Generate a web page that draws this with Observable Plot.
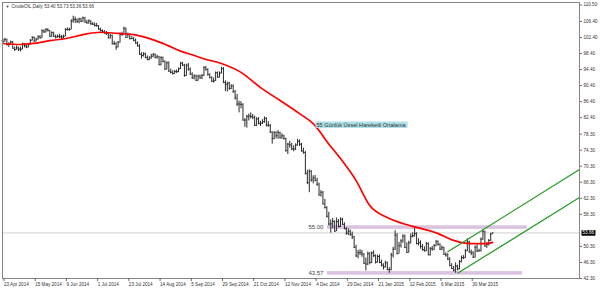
<!DOCTYPE html>
<html><head><meta charset="utf-8">
<script src="https://cdn.jsdelivr.net/npm/d3@7"></script>
<script src="https://cdn.jsdelivr.net/npm/@observablehq/plot@0.6"></script>
<style>
html,body{margin:0;padding:0;background:#fff;}
#chart{width:600px;height:290px;overflow:hidden;}
</style></head><body><div id="chart"></div>
<script>
// ---- data ----
const symbol = "CrudeOIL,Daily";
const xTickIdx = [0,16,32,48,64,80,96,112,128,144,160,176,192,208,224,240];
const xTickLabels = ["23 Apr 2014","15 May 2014","9 Jun 2014","1 Jul 2014","23 Jul 2014","14 Aug 2014","5 Sep 2014","29 Sep 2014","21 Oct 2014","12 Nov 2014","4 Dec 2014","29 Dec 2014","21 Jan 2015","12 Feb 2015","6 Mar 2015","30 Mar 2015"];
const yTicks = [110.50,106.40,102.40,98.40,94.40,90.40,86.40,82.40,78.30,74.30,70.30,66.30,62.30,58.30,50.30,46.30,42.30];

const open = [
101.6,101.4,101.9,100.6,100.8,101.3,99.7,99.4,99.8,99.5,
99.5,100.8,100.3,100.0,100.6,101.7,102.4,101.5,102.0,102.6,
102.3,104.1,103.8,104.4,104.1,102.7,103.6,102.7,102.5,102.7,
102.6,102.5,102.7,104.4,104.4,104.4,106.5,106.9,106.9,106.4,
107.0,106.4,107.3,106.2,106.0,106.5,105.8,105.7,105.4,105.3,
104.5,104.1,103.8,103.5,103.4,102.3,102.9,100.8,100.9,100.0,
101.2,103.2,103.1,104.6,102.4,103.1,102.1,102.1,101.7,101.0,
100.3,98.2,97.9,98.3,97.4,96.9,97.3,97.7,98.1,97.4,
97.6,95.6,97.4,96.4,94.5,96.1,94.0,93.7,93.4,93.9,
93.9,94.6,96.0,95.5,92.9,95.5,94.5,93.3,92.3,92.8,
91.7,92.8,92.3,92.9,94.9,94.4,93.1,92.4,91.5,91.6,
93.6,92.5,93.5,94.6,91.2,90.7,91.0,89.7,90.3,88.9,
87.3,85.8,85.8,85.7,81.8,81.8,82.7,82.8,82.7,82.5,
80.5,82.1,81.0,81.0,81.4,82.2,80.5,80.5,78.8,77.2,
78.7,77.9,78.7,77.4,77.9,77.2,74.2,75.8,75.6,74.6,
74.6,75.6,76.5,75.8,74.1,73.7,68.5,66.2,69.0,66.9,
67.4,66.8,65.8,63.1,63.8,60.9,60.0,57.8,55.9,55.9,
56.5,54.1,56.5,55.3,57.1,55.8,54.7,53.6,54.1,53.3,
52.7,50.0,47.9,48.7,48.8,48.4,46.1,45.9,48.5,46.3,
48.7,48.0,46.4,47.8,46.3,45.6,45.2,46.2,44.5,44.5,
48.2,49.6,53.1,48.5,50.5,51.7,52.9,50.0,48.8,51.2,
52.8,53.0,53.5,51.0,51.2,50.3,49.5,49.2,51.0,48.2,
49.8,49.6,50.5,51.5,50.8,49.6,50.0,48.3,48.2,47.1,
45.5,44.8,44.4,45.4,44.7,46.5,47.5,47.5,49.2,51.4,
48.9,48.7,47.6,50.1,49.1,49.2,52.1,54.0,50.4,50.8,
51.8,53.40];
const high = [
102.0,102.2,102.0,101.1,101.5,101.4,100.0,100.3,100.0,100.0,
101.0,100.9,100.5,100.8,101.9,102.6,102.5,102.2,102.8,102.9,
104.3,104.3,104.6,104.6,104.2,103.8,103.7,103.0,103.0,103.2,
102.9,103.0,104.6,104.8,104.7,106.8,107.7,107.5,107.0,107.2,
107.2,107.5,107.4,106.7,106.8,106.6,106.1,106.0,105.9,105.4,
104.7,104.3,104.1,103.9,103.5,103.2,103.0,101.4,101.1,101.4,
103.5,103.7,105.0,104.8,103.5,103.3,102.6,102.4,102.0,101.3,
100.6,98.6,98.6,98.5,97.8,97.6,98.2,98.4,98.3,98.0,
97.7,97.6,97.5,96.6,96.3,96.3,94.5,94.1,94.2,94.3,
94.8,96.2,96.2,95.7,95.7,95.9,94.8,93.6,93.1,93.0,
93.0,93.0,93.2,95.1,95.2,94.6,93.4,92.6,92.3,93.8,
93.8,93.8,95.0,94.9,91.6,91.3,91.2,90.6,90.6,89.2,
88.2,86.5,86.4,85.9,82.2,83.0,83.3,83.6,83.2,82.8,
82.4,82.4,81.5,81.9,82.6,82.4,81.4,80.7,78.9,78.9,
78.9,79.2,78.8,78.4,78.0,77.3,76.0,76.5,76.0,75.4,
75.9,77.0,76.9,76.0,74.8,74.0,69.3,69.4,69.2,67.9,
68.0,67.3,66.1,64.2,64.0,62.0,60.2,58.8,56.9,57.3,
56.7,57.4,57.0,57.4,57.3,56.2,55.0,54.7,54.4,53.9,
52.8,50.6,49.3,49.5,49.3,48.5,47.4,48.9,48.8,48.9,
49.2,48.2,48.1,48.2,46.9,46.0,46.6,46.4,45.0,48.6,
50.1,54.2,53.5,51.3,52.0,53.2,53.1,51.2,51.6,53.4,
53.7,54.9,53.7,52.2,51.7,50.8,50.2,51.3,51.2,50.0,
50.3,50.8,51.8,51.7,51.0,50.4,50.1,48.7,48.5,47.5,
46.0,45.3,46.2,45.6,46.8,47.9,48.0,49.5,52.2,51.6,
49.4,49.0,50.4,50.8,49.6,52.4,54.4,54.1,51.3,52.0,
53.6,53.73];
const low = [
101.0,101.2,100.3,99.9,100.5,99.6,98.9,99.2,98.9,98.8,
99.3,99.8,99.6,99.8,100.5,101.5,101.2,101.3,101.7,102.0,
102.2,103.4,103.5,103.8,102.5,102.4,102.5,102.0,102.2,102.1,
101.9,102.1,102.6,104.0,103.9,104.3,106.0,105.9,105.9,105.8,
106.1,106.2,106.0,105.8,105.7,105.5,105.4,105.0,105.0,104.2,
103.8,103.6,103.2,102.9,102.1,102.0,100.6,100.4,99.2,99.8,
101.0,102.7,103.0,102.2,102.2,101.8,101.9,101.3,100.7,100.0,
98.0,97.0,97.5,97.1,96.6,96.6,97.0,97.4,97.1,97.0,
95.4,95.3,96.1,94.2,94.3,93.7,93.3,93.0,93.2,93.4,
93.6,94.4,95.2,92.5,92.7,94.0,92.9,92.0,91.8,91.4,
91.5,92.0,91.9,92.7,94.0,92.8,92.1,91.2,91.0,91.4,
92.3,92.3,93.3,90.9,88.9,88.8,89.2,89.4,88.5,86.8,
85.2,83.6,84.6,81.6,80.0,79.8,81.6,82.1,81.9,80.2,
80.2,80.6,80.2,80.7,81.0,80.1,80.0,78.5,75.8,76.9,
77.1,77.0,77.1,77.0,76.8,73.8,73.2,74.8,74.2,73.9,
74.2,75.3,75.2,73.8,73.3,68.1,65.7,63.7,66.3,65.9,
66.4,65.3,62.9,62.6,60.7,59.6,57.4,55.4,53.6,54.7,
53.9,54.0,54.9,55.0,55.6,54.5,53.1,53.0,52.8,52.0,
49.8,47.6,47.2,48.0,47.6,45.9,44.2,45.5,45.7,46.0,
47.5,45.9,46.1,46.0,45.2,44.4,44.9,44.3,43.6,44.2,
47.4,49.3,48.2,48.4,49.9,51.1,49.8,48.6,48.6,50.9,
52.4,52.6,50.7,50.4,49.6,49.1,48.9,49.0,48.0,47.9,
49.1,49.3,50.2,50.4,49.3,49.2,48.1,47.6,46.8,45.3,
44.6,43.9,43.6,44.2,44.5,46.2,47.0,47.3,49.0,48.6,
48.0,47.3,47.4,48.8,48.9,48.9,51.8,50.1,49.8,50.4,
51.5,53.36];
const close = [
101.4,101.9,100.6,100.8,101.3,99.7,99.4,99.8,99.5,99.5,
100.8,100.3,100.0,100.6,101.7,102.4,101.5,102.0,102.6,102.3,
104.1,103.8,104.4,104.1,102.7,103.6,102.7,102.5,102.7,102.6,
102.5,102.7,104.4,104.4,104.4,106.5,106.9,106.9,106.4,107.0,
106.4,107.3,106.2,106.0,106.5,105.8,105.7,105.4,105.3,104.5,
104.1,103.8,103.5,103.4,102.3,102.9,100.8,100.9,100.0,101.2,
103.2,103.1,104.6,102.4,103.1,102.1,102.1,101.7,101.0,100.3,
98.2,97.9,98.3,97.4,96.9,97.3,97.7,98.1,97.4,97.6,
95.6,97.4,96.4,94.5,96.1,94.0,93.7,93.4,93.9,93.9,
94.6,96.0,95.5,92.9,95.5,94.5,93.3,92.3,92.8,91.7,
92.8,92.3,92.9,94.9,94.4,93.1,92.4,91.5,91.6,93.6,
92.5,93.5,94.6,91.2,90.7,91.0,89.7,90.3,88.9,87.3,
85.8,85.8,85.7,81.8,81.8,82.7,82.8,82.7,82.5,80.5,
82.1,81.0,81.0,81.4,82.2,80.5,80.5,78.8,77.2,78.7,
77.9,78.7,77.4,77.9,77.2,74.2,75.8,75.6,74.6,74.6,
75.6,76.5,75.8,74.1,73.7,68.5,66.2,69.0,66.9,67.4,
66.8,65.8,63.1,63.8,60.9,60.0,57.8,55.9,55.9,56.5,
54.1,56.5,55.3,57.1,55.8,54.7,53.6,54.1,53.3,52.7,
50.0,47.9,48.7,48.8,48.4,46.1,45.9,48.5,46.3,48.7,
48.0,46.4,47.8,46.3,45.6,45.2,46.2,44.5,44.5,48.2,
49.6,53.1,48.5,50.5,51.7,52.9,50.0,48.8,51.2,52.8,
53.0,53.5,51.0,51.2,50.3,49.5,49.2,51.0,48.2,49.8,
49.6,50.5,51.5,50.8,49.6,50.0,48.3,48.2,47.1,45.5,
44.8,44.4,45.4,44.7,46.5,47.5,47.5,49.2,51.4,48.9,
48.7,47.6,50.1,49.1,49.2,52.1,54.0,50.4,50.8,51.8,
53.3,53.66];

// 55-period EMA (bar index, price)
const emaIdx = [0,9,16,24,33,41,50,59,67,76,84,91,98,103,112,122,132,142,152,159,168,173,181,188,197,205,214,223,231,240,248,251];
const emaVal = [100.9,100.65,100.95,101.6,102.2,103.1,103.7,103.4,103.1,102.0,100.5,99.0,97.9,97.1,95.9,93.7,89.9,86.7,83.4,80.9,75.2,72.2,66.7,60.5,57.5,56.0,54.8,53.5,51.8,51.0,51.0,51.3];
const emaLabel = "55 Günlük Üssel Hareketli Ortalama";
const emaLabelIdx = 160.7, emaLabelPrice = 80.6;

// horizontal support / resistance levels
const levelPrice = [55.00, 43.57];
const levelStart = [166.3, 166.3];
const levelEnd = [268.8, 266.3];

// rising channel (green)
const chanX1 = [227.8, 233];
const chanY1 = [48.9, 43.6];
const chanX2 = [295.5, 295.5];
const chanY2 = [69.5, 62.5];

const lastPrice = close[close.length - 1];

// ---- build ----
const bars = close.map((c, i) => ({i, o: open[i], h: high[i], l: low[i], c}));
const ema = emaIdx.map((i, k) => ({i, v: emaVal[k]}));
const levels = levelPrice.map((p, k) => ({p, x1: levelStart[k], x2: levelEnd[k]}));
const chans = chanX1.map((x, k) => ({x1: x, y1: chanY1[k], x2: chanX2[k], y2: chanY2[k]}));
const last = bars[bars.length - 1];
const title = `${symbol} ${last.o.toFixed(2)} ${last.h.toFixed(2)} ${last.l.toFixed(2)} ${last.c.toFixed(2)}`;

const FONT = "Liberation Sans, Arial, sans-serif";
const chart = Plot.plot({
  width: 600, height: 290,
  marginLeft: 2, marginRight: 21, marginTop: 2, marginBottom: 12,
  style: {fontFamily: FONT, background: "#fff", color: "#333"},
  x: {type: "linear", domain: [-0.25, 295.5], axis: null},
  y: {domain: [42.3, 111.12], axis: null},
  marks: [
    Plot.rect(levels, {x1: "x1", x2: "x2", y1: d => d.p - 0.45, y2: d => d.p + 0.45, fill: "#dbc3e0"}),
    Plot.text(levels, {x: "x1", y: "p", text: d => d.p.toFixed(2), textAnchor: "end", dx: -4, fontSize: 6, fill: "#444", letterSpacing: "0.6px"}),
    Plot.ruleY([lastPrice], {stroke: "#cfcfcf", strokeWidth: 1}),
    Plot.ruleX(bars, {x: "i", y1: "l", y2: "h", stroke: "#2a2a2a", strokeWidth: 1}),
    Plot.ruleY(bars, {y: "o", x1: d => d.i - 0.5, x2: "i", stroke: "#2a2a2a", strokeWidth: 1}),
    Plot.ruleY(bars, {y: "c", x1: "i", x2: d => d.i + 0.5, stroke: "#2a2a2a", strokeWidth: 1}),
    Plot.line(ema, {x: "i", y: "v", stroke: "#ff0000", strokeWidth: 1.7, curve: "monotone-x"}),
    Plot.link(chans, {x1: "x1", y1: "y1", x2: "x2", y2: "y2", stroke: "#1e9a1e", strokeWidth: 1.2}),
    Plot.text([emaLabel], {x: emaLabelIdx, y: emaLabelPrice, text: d => d, textAnchor: "start", fontSize: 5.6, fill: "#333", ariaDescription: "ema-label"}),
    Plot.frame({stroke: "#858585"}),
    Plot.text(["\u25BC"], {frameAnchor: "top-left", dx: 3, dy: 4, fontSize: 4, fill: "#333", lineAnchor: "middle"}),
    Plot.text([title], {frameAnchor: "top-left", dx: 9, dy: 4, fontSize: 4.6, fill: "#333", lineAnchor: "middle", textAnchor: "start"}),
    Plot.axisY({anchor: "right", ticks: yTicks, tickFormat: d => d.toFixed(2), tickSize: 2, tickPadding: 2, fontSize: 4.6, stroke: "#666", fill: "#333"}),
    Plot.axisX({anchor: "bottom", ticks: xTickIdx, tickFormat: d => xTickLabels[xTickIdx.indexOf(d)], tickSize: 3, tickPadding: 1, textAnchor: "start", dx: 1, fontSize: 4.6, stroke: "#666", fill: "#333"}),
    Plot.text([lastPrice], {y: d => d, frameAnchor: "right", dx: 3, textAnchor: "start", text: d => d.toFixed(2), fontSize: 4.6, fill: "#fff", ariaDescription: "price-tag"})
  ]
});
document.getElementById("chart").append(chart);

function addBg(desc, fill, px, py) {
  const g = chart.querySelector(`[aria-description="${desc}"]`);
  if (!g) return;
  g.querySelectorAll("text").forEach(t => {
    const b = t.getBBox();
    const r = document.createElementNS("http://www.w3.org/2000/svg", "rect");
    r.setAttribute("x", b.x - px);
    r.setAttribute("y", b.y - py);
    r.setAttribute("width", b.width + 2 * px);
    r.setAttribute("height", b.height + 2 * py);
    r.setAttribute("fill", fill);
    if (t.getAttribute("transform")) r.setAttribute("transform", t.getAttribute("transform"));
    t.parentNode.insertBefore(r, t);
  });
}
addBg("ema-label", "#ade0e8", 1, 0.2);
addBg("price-tag", "#000", 1, 0.3);
</script>
</body></html>
